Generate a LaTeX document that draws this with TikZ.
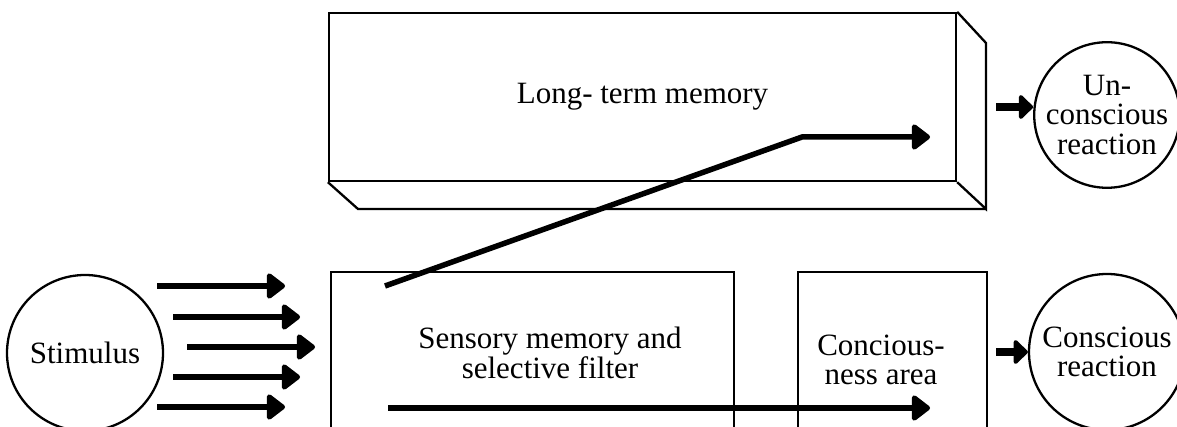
\documentclass[tikz,border=0pt]{standalone}
\usepackage{fontspec}
\setmainfont{Liberation Serif}
\usetikzlibrary{arrows.meta}
\begin{document}
\begin{tikzpicture}[x=1pt,y=-1pt,
  outline/.style={draw, line width=2.3pt, line join=miter},
  box/.style={outline, rectangle, inner sep=0pt},
  ring/.style={outline, circle, inner sep=0pt},
  txt/.style={font=\fontsize{31}{29.5}\selectfont, align=center, inner sep=0pt},
  bigarrow/.style={line width=5.5pt, -{Triangle[length=20pt,width=29pt,round]}},
  smallarrow/.style={line width=8pt, -{Triangle[length=15pt,width=28pt,round]}}]
\useasboundingbox (0,0) rectangle (1177,427);
\clip (0,0) rectangle (1177,427);

% long-term memory block
\node[box, minimum width=627pt, minimum height=168pt, txt] (ltm) at (642.5,97) {Long- term memory};
\draw[outline] (ltm.north east) -- (986,43) -- (986,209) -- (ltm.south east);
\draw[outline] (ltm.south west) -- (358,209) -- (986,209);

% lower boxes (extending below the frame)
\node[box, minimum width=403pt, minimum height=190pt] (sens) at (532.5,367) {};
\node[txt] (senstxt) at (550,353) {Sensory memory and\\selective filter};
\node[box, minimum width=189pt, minimum height=190pt] (cons) at (892.5,367) {};
\node[txt] (constxt) at (881,360) {Concious-\\ness area};

% circles
\node[ring, minimum size=156pt, txt] (stim) at (85,353) {Stimulus};
\node[ring, minimum size=144pt, txt] (unc) at (1107,115) {Un-\\conscious\\reaction};
\node[ring, minimum size=156pt, txt] (con) at (1107,352) {Conscious\\reaction};

% stimulus arrows
\coordinate (s1) at (157,286); \coordinate (t1) at (285,286);
\coordinate (s2) at (173,317); \coordinate (t2) at (300,317);
\coordinate (s3) at (187,347); \coordinate (t3) at (315,347);
\coordinate (s4) at (173,377); \coordinate (t4) at (300,377);
\coordinate (s5) at (157,407); \coordinate (t5) at (285,407);
\foreach \i in {1,...,5} \draw[bigarrow] (s\i) -- (t\i);

% path through long-term memory
\coordinate (d0) at (385,286);
\coordinate (d1) at (802,137);
\coordinate (d2) at (930,137);
\draw[bigarrow, line join=miter] (d0) -- (d1) -- (d2);

% path to consciousness area
\coordinate (b0) at (388,408);
\coordinate (b1) at (930,408);
\draw[bigarrow] (b0) -- (b1);

% reaction arrows
\coordinate (ua) at (996,107);
\draw[smallarrow] (ua) -- (ua -| unc.west);
\coordinate (ca) at (996,352);
\draw[smallarrow] (ca) -- (con.west);
\end{tikzpicture}
\end{document}
